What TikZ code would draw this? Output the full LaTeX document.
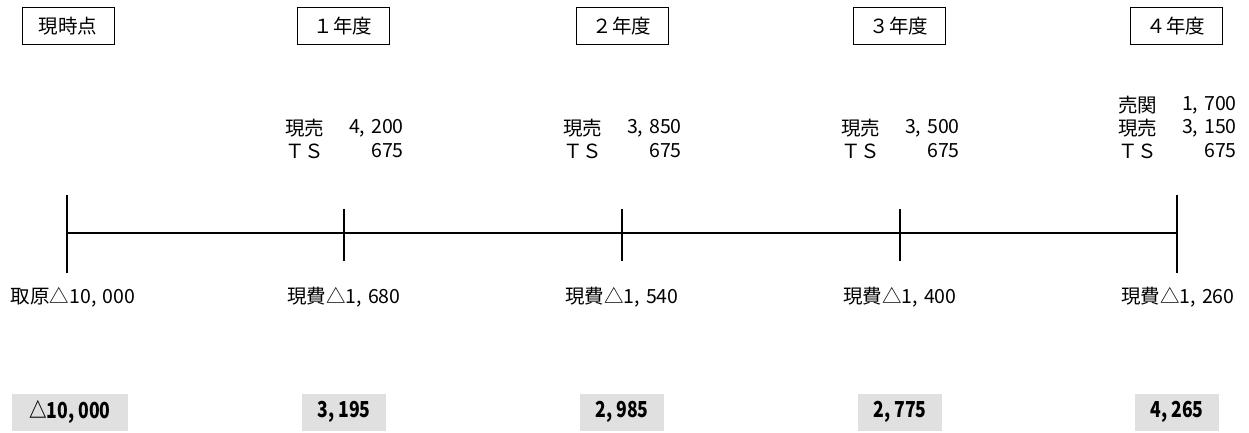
\documentclass[tikz,border=0pt]{standalone}
\usepackage{fontspec}
\setmainfont{Noto Sans CJK JP}
\newcommand\jcomma{,\kern6pt}
\begin{document}
\begin{tikzpicture}[x=1pt,y=-1pt,
  yearbox/.style={draw=black,line width=0.9pt,minimum width=92pt,minimum height=37pt,inner sep=0pt,font=\fontsize{19.5}{22}\selectfont},
  lbl/.style={inner sep=0pt,font=\fontsize{19.5}{22}\selectfont},
  resbox/.style={fill=black!12,minimum height=37pt,inner sep=0pt,font=\fontsize{22}{24}\selectfont\bfseries\addfontfeature{FakeStretch=0.8}},
  axis/.style={line width=2.6pt}]
\useasboundingbox (0,0) rectangle (1249,432);
% header boxes
\node[yearbox] (h0) at (68,26) {現時点};
\node[yearbox] (h1) at (343,26) {１年度};
\node[yearbox] (h2) at (622,26) {２年度};
\node[yearbox] (h3) at (899,26) {３年度};
\node[yearbox] (h4) at (1176,26) {４年度};
% axis
\coordinate (t0) at (67,233);
\coordinate (t1) at (344,233);
\coordinate (t2) at (622,233);
\coordinate (t3) at (900,233);
\coordinate (t4) at (1177,233);
\draw[axis] (t0) -- (t4);
\draw[axis] ([yshift=-40]t0) -- ([yshift=38]t0);
\draw[axis] ([yshift=-40]t4) -- ([yshift=38]t4);
\foreach \i in {1,2,3} \draw[axis] ([yshift=-28]t\i) -- ([yshift=24]t\i);
% upper labels
\node[lbl,anchor=west] (a1) at (285,128) {現売};
\node[lbl,anchor=east] (b1) at (404,128) {4\jcomma200};
\node[lbl,anchor=west] (c1) at (285,151) {ＴＳ};
\node[lbl,anchor=east] (d1) at (404,151) {675};
\node[lbl,anchor=west] (a2) at (563,128) {現売};
\node[lbl,anchor=east] (b2) at (682,128) {3\jcomma850};
\node[lbl,anchor=west] (c2) at (563,151) {ＴＳ};
\node[lbl,anchor=east] (d2) at (682,151) {675};
\node[lbl,anchor=west] (a3) at (841,128) {現売};
\node[lbl,anchor=east] (b3) at (960,128) {3\jcomma500};
\node[lbl,anchor=west] (c3) at (841,151) {ＴＳ};
\node[lbl,anchor=east] (d3) at (960,151) {675};
\node[lbl,anchor=west] (e4) at (1118,105) {売関};
\node[lbl,anchor=east] (f4) at (1237,105) {1\jcomma700};
\node[lbl,anchor=west] (a4) at (1118,128) {現売};
\node[lbl,anchor=east] (b4) at (1237,128) {3\jcomma150};
\node[lbl,anchor=west] (c4) at (1118,151) {ＴＳ};
\node[lbl,anchor=east] (d4) at (1237,151) {675};
% lower labels
\node[lbl] (l0) at (73,297) {取原△10\jcomma000};
\node[lbl] (l1) at (344,297) {現費△1\jcomma680};
\node[lbl] (l2) at (622,297) {現費△1\jcomma540};
\node[lbl] (l3) at (900,297) {現費△1\jcomma400};
\node[lbl] (l4) at (1178,297) {現費△1\jcomma260};
% results
\node[resbox,minimum width=116pt] (r0) at (70,412) {△10, 000};
\node[resbox,minimum width=84pt] (r1) at (344,412) {3, 195};
\node[resbox,minimum width=84pt] (r2) at (622,412) {2, 985};
\node[resbox,minimum width=84pt] (r3) at (900,412) {2, 775};
\node[resbox,minimum width=84pt] (r4) at (1177,412) {4, 265};
\end{tikzpicture}
\end{document}
